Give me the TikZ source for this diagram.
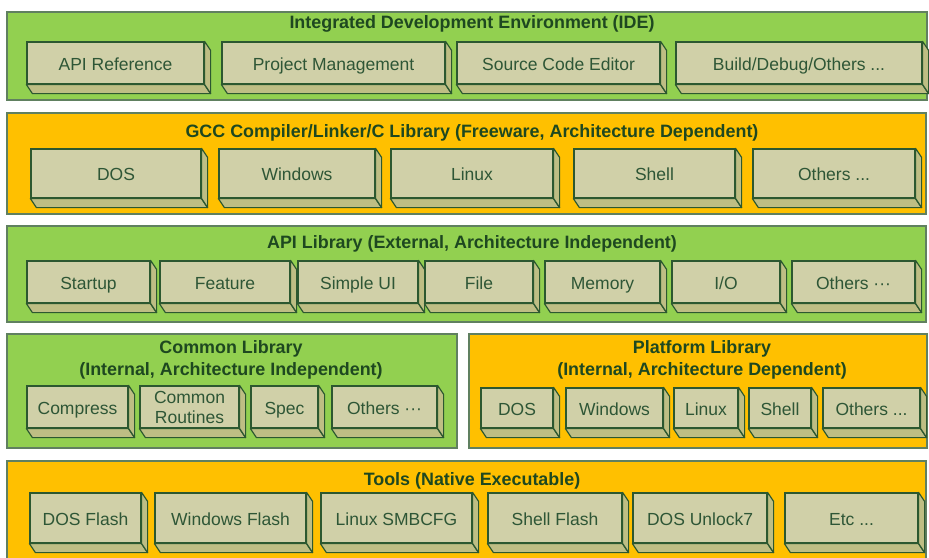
\documentclass[tikz,border=0pt]{standalone}
\usepackage{fontspec}
\setmainfont{Liberation Sans}
\usepackage{tikz}
\usetikzlibrary{fit, positioning}

\definecolor{panelgreen}{RGB}{146,208,80}
\definecolor{panelorange}{RGB}{255,192,0}
\definecolor{panelline}{RGB}{96,128,96}
\definecolor{boxfront}{RGB}{208,208,168}
\definecolor{boxshade}{RGB}{190,190,132}
\definecolor{boxline}{RGB}{44,88,48}
\definecolor{boxtext}{RGB}{46,86,54}
\definecolor{titletext}{RGB}{30,72,32}

\tikzset{
  panel/.style={draw=panelline, line width=0.6pt, inner sep=0pt},
  paneltitle/.style={anchor=base, text=titletext, align=center,
    font=\fontsize{8.95}{11}\selectfont\bfseries},
  blkface/.style={draw=boxline, fill=boxfront, line width=0.6pt, inner sep=0pt},
  blkshade/.style={draw=boxline, fill=boxshade, line width=0.6pt, line join=round},
  blktext/.style={text=boxtext, font=\fontsize{8.75}{10}\selectfont,
    text height=0.716em, text depth=0pt, inner sep=0pt}
}

% 3d block: name, x1, y1, x2, y2, label
\newcommand{\blockbox}[7][]{%
  \node[blkface, fit={(#3,#4) (#5,#6)}] (#2) {};
  \draw[blkshade] (#2.south west) -- (#2.south east) -- ++(6,9)
    -- ([shift={(6,9)}]#2.south west) -- cycle;
  \draw[blkshade] (#2.north east) -- ++(6,9)
    -- ([shift={(6,9)}]#2.south east) -- (#2.south east) -- cycle;
  \node[blktext, #1] (#2-t) at (#2.center) {#7};
}

\begin{document}
\begin{tikzpicture}[x=0.5pt, y=-0.5pt]
  \clip (0,0) rectangle (929,557);
  \fill[white] (0,0) rectangle (929,557);

  % IDE
  \node[panel, fill=panelgreen, fit={(7,12) (927,100)}] (ide) {};
  \node[paneltitle] (ide-t) at (472,28.5) {Integrated Development Environment (IDE)};
  \foreach \nm/\xa/\xb/\txt in {api/27/204/API Reference, proj/222/445/Project Management,
      src/457/660/Source Code Editor, build/676/922/{Build/Debug/Others ...}}
    {\blockbox{ide-\nm}{\xa}{42}{\xb}{84}{\txt}}

  % GCC
  \node[panel, fill=panelorange, fit={(7,113) (926,214)}] (gcc) {};
  \node[paneltitle] (gcc-t) at (472,137.3) {GCC Compiler/Linker/C Library (Freeware, Architecture Dependent)};
  \foreach \nm/\xa/\xb/\txt in {dos/31/201/DOS, win/219/375/Windows, lin/391/553/Linux,
      sh/574/735/Shell, oth/753/915/{Others ...}}
    {\blockbox{gcc-\nm}{\xa}{149}{\xb}{198}{\txt}}

  % API library
  \node[panel, fill=panelgreen, fit={(7,226) (926,322)}] (apilib) {};
  \node[paneltitle] (apilib-t) at (472,248.3) {API Library (External, Architecture Independent)};
  \foreach \nm/\xa/\xb/\txt in {start/27/150/Startup, feat/160/290/Feature, ui/298/418/Simple UI,
      file/425/533/File, mem/545/660/Memory, io/672/780/{I/O}, oth/792/915/{Others ···}}
    {\blockbox{apilib-\nm}{\xa}{261}{\xb}{303}{\txt}}

  % common library
  \node[panel, fill=panelgreen, fit={(7,334) (457,448)}] (com) {};
  \node[paneltitle] (com-t) at (231,375) {Common Library\\(Internal, Architecture Independent)};
  \blockbox{com-comp}{27}{386}{128}{428}{Compress}
  \blockbox[align=center, text height={}, text depth={}]{com-rout}{140}{386}{239}{428}{Common\\Routines}
  \blockbox{com-spec}{251}{386}{318}{428}{Spec}
  \blockbox{com-oth}{332}{386}{437}{428}{Others ···}

  % platform library
  \node[panel, fill=panelorange, fit={(469,334) (927,448)}] (plat) {};
  \node[paneltitle] (plat-t) at (702,375) {Platform Library\\(Internal, Architecture Dependent)};
  \foreach \nm/\xa/\xb/\txt in {dos/481/553/DOS, win/566/663/Windows, lin/674/738/Linux,
      sh/749/811/Shell, oth/823/920/{Others ...}}
    {\blockbox{plat-\nm}{\xa}{388}{\xb}{428}{\txt}}

  % tools
  \node[panel, fill=panelorange, fit={(7,461) (926,580)}] (tools) {};
  \node[paneltitle] (tools-t) at (472,485) {Tools (Native Executable)};
  \foreach \nm/\xa/\xb/\txt in {dosf/30/141/DOS Flash, winf/155/306/Windows Flash,
      smb/321/472/Linux SMBCFG, shf/488/622/Shell Flash, unl/633/767/DOS Unlock7,
      etc/785/918/{Etc ...}}
    {\blockbox{tools-\nm}{\xa}{493}{\xb}{543}{\txt}}
\end{tikzpicture}
\end{document}
